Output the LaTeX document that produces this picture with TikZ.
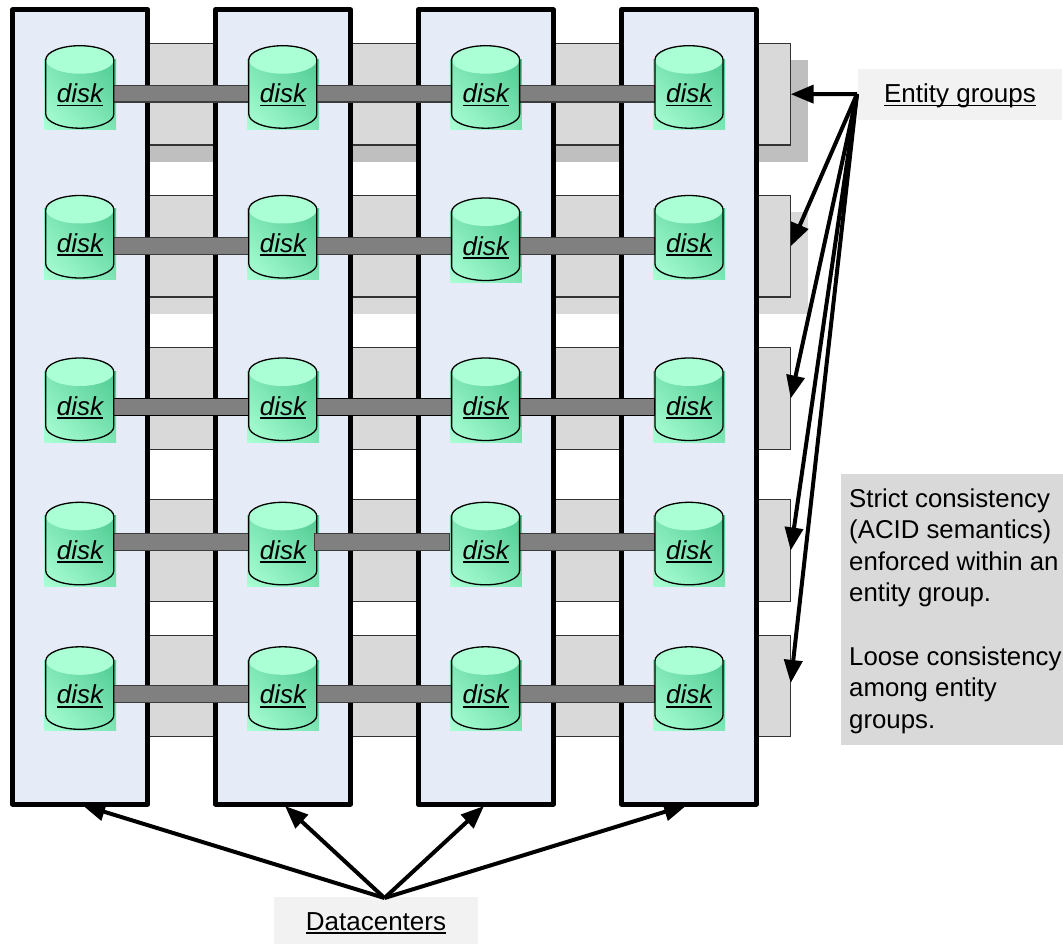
\documentclass[tikz,border=0pt]{standalone}
\usepackage{fontspec}
\setmainfont{Liberation Sans}
\usetikzlibrary{arrows.meta,calc,shadings}
\definecolor{colfill}{HTML}{E6ECF7}
\definecolor{entfill}{HTML}{D9D9D9}
\definecolor{entedge}{HTML}{333333}
\definecolor{shadowA}{HTML}{BFBFBF}
\definecolor{shadowB}{HTML}{D9D9D9}
\definecolor{barfill}{HTML}{808080}
\definecolor{baredge}{HTML}{3C3C3C}
\definecolor{lblfill}{HTML}{F2F2F2}
\definecolor{notefill}{HTML}{D9D9D9}
\definecolor{disklight}{HTML}{AAFFD4}
\definecolor{diskdark}{HTML}{4FCB92}
\newsavebox\ulbox
\newcommand\ultext[1]{\sbox\ulbox{#1}\rlap{\rule[-3.8pt]{\wd\ulbox}{1.8pt}}\usebox\ulbox}
\tikzset{
  colbox/.style={draw=black,line width=5pt,fill=colfill,minimum width=135.4pt,minimum height=794pt,inner sep=0pt,outer sep=0pt,line join=round},
  entbox/.style={draw=entedge,line width=1.3pt,fill=entfill,anchor=east,minimum width=642pt,minimum height=#1,inner sep=0pt,outer sep=0pt},
  shadowbox/.style={fill=#1,anchor=north west,minimum width=660pt,minimum height=102.3pt,inner sep=0pt,outer sep=0pt},
  barbox/.style={draw=#1,line width=1.3pt,fill=barfill},
  barbox/.default=baredge,
  diskedge/.style={draw=black,line width=1.3pt},
  diskslot/.style={minimum width=68pt,minimum height=82.5pt,inner sep=0pt,outer sep=0pt},
  disktext/.style={font=\fontsize{26pt}{30pt}\selectfont\itshape,anchor=base,inner sep=0pt},
  lblbox/.style={fill=lblfill,font=\fontsize{26pt}{30pt}\selectfont,inner sep=0pt,text depth=0pt},
  notebox/.style={fill=notefill,anchor=north west,minimum width=222pt,minimum height=271pt,inner sep=0pt},
  notetext/.style={anchor=west,inner sep=0pt,align=left,font=\fontsize{25.8pt}{31.6pt}\selectfont},
  callout/.style={draw=black,line width=4pt,-{Triangle[length=23pt,width=18pt]}},
  diskshade/.style={lower left=disklight,upper right=diskdark,lower right=disklight!50!diskdark,upper left=disklight!50!diskdark},
}
\newcommand\diskback[2]{%
  \begin{scope}[shift={(#1,#2)}]
    \shade[diskshade] (-35.8,13.5) rectangle (36.2,84);
  \end{scope}}
\newcommand\diskat[3]{%
  \begin{scope}[shift={(#2,#3)}]
    \shade[diskshade]
      (-34,14) -- (-34,68.5) .. controls (-34,76.2) and (-18.8,82.5) .. (0,82.5)
      .. controls (18.8,82.5) and (34,76.2) .. (34,68.5) -- (34,14) -- cycle;
    \fill[disklight] (-34,14) .. controls (-34,6.3) and (-18.8,0) .. (0,0)
      .. controls (18.8,0) and (34,6.3) .. (34,14)
      .. controls (34,21.7) and (18.8,28) .. (0,28)
      .. controls (-18.8,28) and (-34,21.7) .. (-34,14) -- cycle;
    \draw[diskedge] (-34,14) .. controls (-34,6.3) and (-18.8,0) .. (0,0)
      .. controls (18.8,0) and (34,6.3) .. (34,14) -- (34,68.5)
      .. controls (34,76.2) and (18.8,82.5) .. (0,82.5)
      .. controls (-18.8,82.5) and (-34,76.2) .. (-34,68.5) -- cycle;
    \node[disktext] (t#1) at (0.2,57) {\ultext{disk}};
  \end{scope}}
\newcommand\barlink[4][baredge]{%
  \draw[barbox=#1] (d#2.east |- #4u) rectangle (d#3.west |- #4l);}
\begin{document}
\begin{tikzpicture}[x=1pt,y=-1pt]
\useasboundingbox (0,0) rectangle (1063,944);
% shadows
\node[shadowbox=shadowA] (sh1) at (148,60) {};
\node[shadowbox=shadowB] (sh2) at (148,212) {};
% entity groups
\node[entbox=101.5pt] (eg1) at (790.7,94.2) {};
\node[entbox=101.5pt] (eg2) at (790.7,246.3) {};
\node[entbox=101.5pt] (eg3) at (790.7,398.5) {};
\node[entbox=101.5pt] (eg4) at (790.7,550.5) {};
\node[entbox=101.5pt] (eg5) at (790.7,686) {};
% datacenters
\node[colbox] (c1) at (80.2,407) {};
\node[colbox] (c2) at (283,407) {};
\node[colbox] (c3) at (485.8,407) {};
\node[colbox] (c4) at (689,407) {};
% disk slots and their square backs
\foreach \rw/\dtop in {1/45.7,2/195.5,3/358,4/502.3,5/646.8}{
  \foreach \cl/\cx in {1/79.8,2/282.8,3/485.6,4/689}{
    \pgfmathsetmacro\dt{(\rw==2 && \cl==3) ? 198 : \dtop}
    \node[diskslot] (d\rw\cl) at (\cx,\dt+41.25) {};
    \diskback{\cx}{\dt}
  }
}
% bar rows
\foreach \rw/\by in {1/93.7,2/246,3/407,4/542,5/694}{
  \coordinate (b\rw u) at (0,\by-8.2);
  \coordinate (b\rw l) at (0,\by+8.2);
}
\barlink{11}{12}{b1}\barlink{12}{13}{b1}\barlink{13}{14}{b1}
\barlink{21}{22}{b2}\barlink{22}{23}{b2}\barlink{23}{24}{b2}
\barlink[black]{31}{32}{b3}\barlink[black]{32}{33}{b3}\barlink[black]{33}{34}{b3}
\barlink{41}{42}{b4}\barlink{43}{44}{b4}
\barlink{51}{52}{b5}\barlink{52}{53}{b5}\barlink{53}{54}{b5}
% disks
\foreach \rw/\dtop in {1/45.7,2/195.5,3/358,4/502.3,5/646.8}{
  \foreach \cl/\cx in {1/79.8,2/282.8,3/485.6,4/689}{
    \pgfmathsetmacro\dt{(\rw==2 && \cl==3) ? 198 : \dtop}
    \diskat{\rw\cl}{\cx}{\dt}
  }
}
\draw[barbox] ([xshift=-2.3pt]d42.east |- b4u) rectangle ([xshift=-1.9pt]d43.west |- b4l);
% labels
\node[lblbox,minimum width=204pt,minimum height=51pt] (lblE) at (960,94.4) {\raisebox{2.3pt}{\ultext{Entity groups}}};
\node[lblbox,minimum width=204pt,minimum height=47pt] (lblD) at (376,920.7) {\raisebox{-1.5pt}{\ultext{Datacenters}}};
\node[notebox] (note) at (841,474) {};
\node[notetext] (notetxt) at (849,611) {Strict consistency\\(ACID semantics)\\enforced within an\\entity group.\\[31.6pt]Loose consistency\\among entity\\groups.};
\coordinate (srcE) at (857,94);
\coordinate (srcD) at (384.5,898);
% callouts
\draw[callout] (srcE) -- (eg1.east);
\draw[callout] (srcE) -- (eg2.east);
\draw[callout] (srcE) -- (eg3.east);
\draw[callout] (srcE) -- (eg4.east);
\draw[callout] (srcE) -- ([yshift=3pt]eg5.east);
\draw[callout] (srcD) -- ([xshift=2pt,yshift=-1pt]c1.south);
\draw[callout] (srcD) -- ([xshift=2pt,yshift=-2pt]c2.south);
\draw[callout] (srcD) -- ([xshift=-1.8pt,yshift=-2pt]c3.south);
\draw[callout] (srcD) -- ([xshift=-2pt,yshift=-1pt]c4.south);
\end{tikzpicture}
\end{document}
